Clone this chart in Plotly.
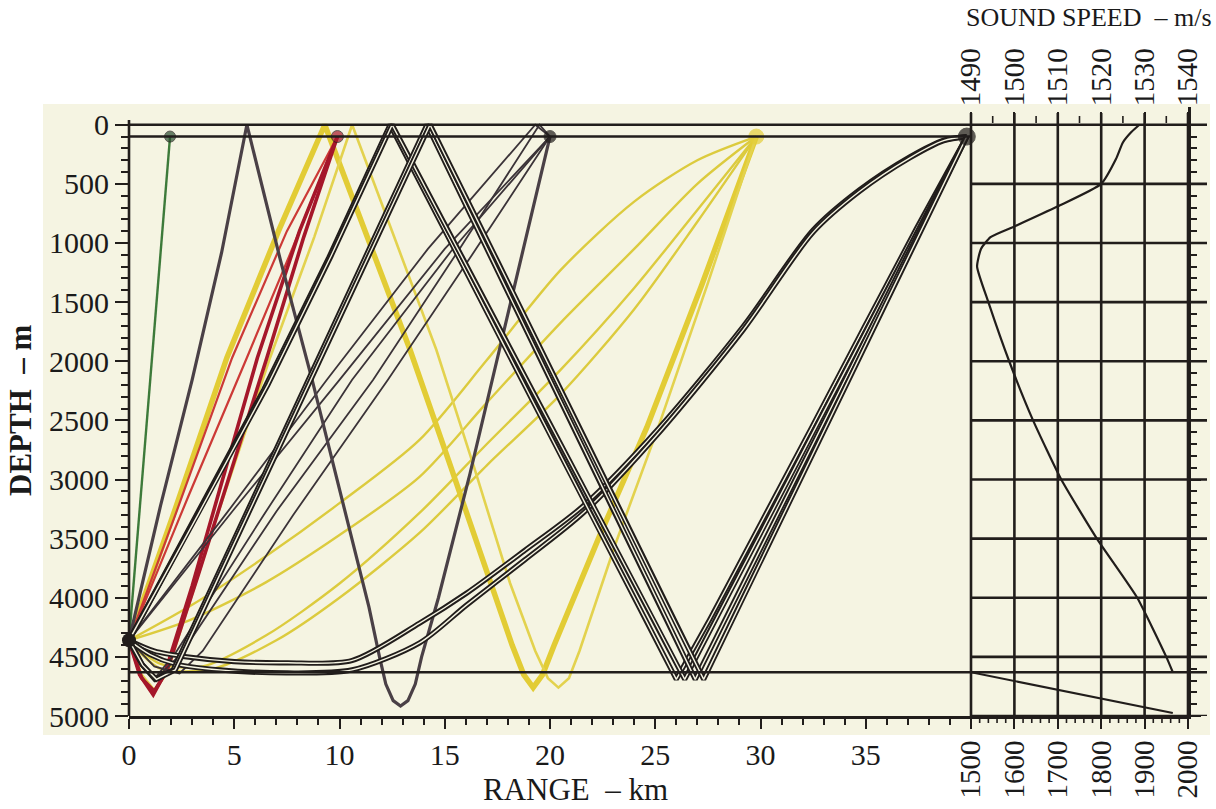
import plotly.graph_objects as go

# ---------------------------------------------------------------------------
# Ray paths (range in km, depth in m), grouped by receiver they reach
# ---------------------------------------------------------------------------
source_range = [0.0]
source_depth = [4360]

receiver_range = [1.95, 9.9, 20.0, 29.8, 39.8]
receiver_depth = [100, 100, 100, 100, 100]
receiver_color = ["#2c4f31", "#a8182a", "#1f1b19", "#e4cf3a", "#1f1b19"]
receiver_edge = ["#1f1b19", "#1f1b19", "#1f1b19", "#e4cf3a", "#1f1b19"]
receiver_size = [11, 12, 12, 15, 17]

# receiver at ~2 km
green_range = [0, 0.45, 0.95, 1.45, 1.95]
green_depth = [4360, 3380, 2280, 1180, 100]

# receiver at ~10 km (two direct, two bottom-penetrating)
red_ranges = [
    [0, 2.2, 4.9, 7.5, 9.9],
    [0, 2.8, 5.6, 7.8, 9.9],
    [0, 0.5, 1.15, 1.7, 3.0, 6.1, 8.1, 9.9],
    [0, 0.6, 1.2, 1.8, 3.3, 6.55, 8.3, 9.9],
]
red_depths = [
    [4360, 3300, 1970, 900, 100],
    [4360, 3150, 1970, 1030, 100],
    [4360, 4650, 4820, 4640, 3900, 1970, 900, 100],
    [4360, 4680, 4790, 4620, 3800, 1970, 950, 100],
]

# receiver at 20 km: surface reflection, bottom loop, then up
gray_range = [0, 1.5, 3.0, 4.4, 5.6, 7.2, 8.7, 10.3, 11.4, 11.9, 12.2, 12.55,
              12.9, 13.25, 13.6, 13.9, 14.7, 16.2, 17.6, 19.0, 20.0]
gray_depth = [4360, 3220, 2157, 1080, 0, 1150, 2157, 3300, 4080, 4500, 4730, 4870,
              4915, 4870, 4730, 4500, 4000, 2950, 1903, 850, 100]

# receiver at 20 km: thin direct / bottom-bounce rays
thin_ranges = [
    [0, 4.7, 9.4, 14.2, 19.3, 20.0],
    [0, 5.0, 10.0, 15.0, 20.0],
    [0, 0.6, 1.23, 2.2, 6.4, 10.6, 15.3, 20.0],
    [0, 0.6, 1.3, 2.5, 7.0, 11.6, 15.7, 19.5, 20.0],
    [0, 1.2, 2.4, 3.5, 7.8, 12.3, 16.3, 20.0],
]
thin_depths = [
    [4360, 3270, 2157, 1050, 0, 100],
    [4360, 3250, 2157, 1050, 100],
    [4360, 4560, 4680, 4470, 3300, 2157, 1070, 100],
    [4360, 4560, 4680, 4470, 3270, 2157, 1050, 0, 100],
    [4360, 4580, 4640, 4450, 3300, 2157, 1100, 100],
]

# receiver at ~30 km: surface-bottom-surface paths
yellow_v_ranges = [
    [0, 2.1, 4.65, 7.1, 9.3, 11.3, 13.35, 15.3, 17.15, 18.2, 18.75, 19.2, 19.65,
     20.2, 22.3, 24.6, 27.2, 29.8],
    [0, 0.6, 1.2, 1.8, 4.2, 6.7, 8.8, 10.6, 12.6, 14.6, 16.4, 18.1, 19.3, 19.9,
     20.4, 20.9, 21.4, 23.1, 25.1, 27.5, 29.8],
]
yellow_v_depths = [
    [4360, 3300, 1970, 900, 0, 950, 1903, 2900, 3875, 4400, 4650, 4760, 4650,
     4400, 3500, 2560, 1360, 100],
    [4360, 4650, 4780, 4640, 3300, 1970, 950, 0, 950, 1903, 2900, 3875, 4450, 4680,
     4760, 4680, 4450, 3550, 2580, 1340, 100],
]

# receiver at ~30 km: refracted paths
yellow_c_ranges = [
    [0, 3, 6.5, 10, 13.8, 17, 20.5, 24, 27, 29.8],
    [0, 3, 6.5, 10, 13.8, 17, 20.5, 24, 27, 29.8],
    [0, 1.5, 3.5, 6.5, 10, 13.8, 17, 20.5, 24, 27, 29.8],
    [0, 1.5, 4, 7, 10, 13.8, 17, 20.5, 24, 27, 29.8],
]
yellow_c_depths = [
    [4360, 4060, 3650, 3200, 2665, 1990, 1230, 650, 300, 100],
    [4360, 4180, 3870, 3470, 2978, 2350, 1675, 1050, 500, 100],
    [4360, 4560, 4580, 4320, 3880, 3283, 2700, 2073, 1380, 720, 100],
    [4360, 4600, 4600, 4360, 4000, 3452, 2880, 2280, 1560, 820, 100],
]

# receiver at ~40 km: surface-bottom-surface paths
black_v_ranges = [
    [0, 3.2, 6.4, 9.5, 12.4, 15.6, 18.8, 21.9, 24.5, 26.0, 27.6, 30.0, 32.4, 34.9,
     37.4, 39.8],
    [0, 3.3, 6.6, 9.6, 12.5, 15.8, 19.1, 22.2, 24.9, 26.4, 28.0, 30.4, 32.8, 35.2,
     37.6, 39.8],
    [0, 0.6, 1.23, 2.1, 5.3, 8.5, 11.4, 14.15, 17.3, 20.2, 23.2, 25.5, 26.9, 28.5,
     30.9, 33.3, 35.6, 37.8, 39.8],
    [0, 0.65, 1.3, 2.2, 5.4, 8.6, 11.5, 14.3, 17.5, 20.5, 23.5, 25.9, 27.3, 28.9,
     31.2, 33.6, 35.9, 38.0, 39.8],
]
black_v_depths = [
    [4360, 3300, 2240, 1120, 0, 1100, 2210, 3280, 4170, 4690, 4180, 3380, 2570,
     1720, 880, 100],
    [4360, 3290, 2200, 1110, 0, 1110, 2230, 3270, 4180, 4690, 4140, 3320, 2500,
     1680, 850, 100],
    [4360, 4560, 4690, 4610, 3390, 2160, 1060, 0, 1160, 2220, 3330, 4170, 4690,
     4120, 3270, 2410, 1590, 810, 100],
    [4360, 4570, 4690, 4610, 3390, 2170, 1070, 0, 1150, 2240, 3320, 4190, 4690,
     4100, 3260, 2380, 1530, 760, 100],
]

# receiver at ~40 km: refracted arcs grazing the bottom
arc_ranges = [
    [0, 1.2, 2.75, 5.0, 7.5, 10.6, 13.8, 16.05, 18.8, 21.6, 25.2, 29.2, 32.5, 34.7,
     37.1, 38.7, 39.8],
    [0, 1.0, 2.2, 4.3, 7.5, 10.6, 13.8, 16.05, 18.8, 21.6, 25.2, 29.2, 32.5, 34.7,
     37.1, 38.7, 39.8],
]
arc_depths = [
    [4360, 4450, 4500, 4540, 4550, 4530, 4215, 3960, 3600, 3220, 2560, 1700, 890,
     550, 270, 130, 100],
    [4360, 4480, 4560, 4610, 4636, 4610, 4382, 4060, 3680, 3280, 2600, 1730, 910,
     565, 280, 135, 100],
]

# ---------------------------------------------------------------------------
# Sound-speed profile
# ---------------------------------------------------------------------------
water_depth = [0, 60, 150, 290, 500, 690, 860, 950, 1050, 1200, 1500, 2000,
               2500, 3000, 3500, 4000, 4500, 4630]
water_speed = [1528.8, 1527, 1525, 1523.4, 1520, 1510, 1500, 1494.5,
               1492.3, 1491.4, 1494, 1498.8, 1504.3, 1510.8, 1519, 1528.3, 1535,
               1536.5]
sediment_depth = [4630, 4975]
sediment_speed = [1500, 1965]

depth_ticks = list(range(0, 5001, 500))
depth_minor = list(range(0, 5001, 100))
range_ticks = list(range(0, 36, 5))
speed_ticks_top = list(range(1490, 1541, 10))
speed_minor_top = list(range(1495, 1541, 10))
speed_ticks_bottom = list(range(1500, 2001, 100))
speed_minor_bottom = [c for c in range(1520, 2000, 20) if c % 100]
bottom_depth = 4630
receiver_line_depth = 100
panel_grid_depths = depth_ticks + [bottom_depth]

# ---------------------------------------------------------------------------
W, H = 1216, 809
X_DOM = [129 / W, 971 / W]
X2_DOM = [971 / W, 1188 / W]
Y_DOM = [(H - 716) / H, (H - 107) / H]
TOP_AXIS_PX = 123
BOTTOM_AXIS_PX = 716
INK = "#211d1b"
PAPER = "#f5f4e2"
FONT = "Liberation Serif, Times New Roman, serif"

fig = go.Figure()


def add_ray(xs, ys, color, width, shape="linear"):
    fig.add_trace(go.Scatter(x=xs, y=ys, mode="lines", xaxis="x", yaxis="y",
                             line=dict(color=color, width=width, shape=shape,
                                       smoothing=0.8),
                             hoverinfo="skip", showlegend=False))


def add_double_ray(xs, ys, shape="linear"):
    add_ray(xs, ys, INK, 5.2, shape)
    add_ray(xs, ys, PAPER, 1.4, shape)


for xs, ys in zip(yellow_c_ranges, yellow_c_depths):
    add_ray(xs, ys, "#dccb3e", 2.4, "spline")
add_ray(yellow_v_ranges[0], yellow_v_depths[0], "#e2cc35", 5.5)
add_ray(yellow_v_ranges[1], yellow_v_depths[1], "#e3d24e", 2.6)

for i, (xs, ys) in enumerate(zip(red_ranges, red_depths)):
    if i < 2:
        add_ray(xs, ys, "#cc3a36", 2.2)
    else:
        add_ray(xs, ys, "#a5172a", 3.6)

add_ray(green_range, green_depth, "#3d7a3a", 2.4)

for xs, ys in zip(thin_ranges, thin_depths):
    add_ray(xs, ys, "#3b3338", 1.8)
add_ray(gray_range, gray_depth, "#4a4046", 3.2)

for xs, ys in zip(arc_ranges, arc_depths):
    add_double_ray(xs, ys, "spline")
for xs, ys in zip(black_v_ranges, black_v_depths):
    add_double_ray(xs, ys)

# receivers and source
fig.add_trace(go.Scatter(x=receiver_range, y=receiver_depth, mode="markers",
                         xaxis="x", yaxis="y", cliponaxis=False,
                         marker=dict(color=receiver_color, size=receiver_size,
                                     line=dict(color=receiver_edge, width=1)),
                         hoverinfo="skip", showlegend=False))
fig.add_trace(go.Scatter(x=source_range, y=source_depth, mode="markers",
                         xaxis="x", yaxis="y", cliponaxis=False,
                         marker=dict(color=INK, size=14),
                         hoverinfo="skip", showlegend=False))

# sound speed profile
fig.add_trace(go.Scatter(x=water_speed, y=water_depth, mode="lines",
                         xaxis="x2", yaxis="y2",
                         line=dict(color=INK, width=2.2, shape="spline",
                                   smoothing=0.5),
                         hoverinfo="skip", showlegend=False))
fig.add_trace(go.Scatter(x=sediment_speed, y=sediment_depth, mode="lines",
                         xaxis="x3", yaxis="y2",
                         line=dict(color=INK, width=2.2),
                         hoverinfo="skip", showlegend=False))


def km_to_paper(km):
    return X_DOM[0] + km / 40.0 * (X_DOM[1] - X_DOM[0])


def speed_to_paper(c):
    return X2_DOM[0] + (c - 1490) / 50.0 * (X2_DOM[1] - X2_DOM[0])


def sediment_speed_to_paper(c):
    return X2_DOM[0] + (c - 1500) / 500.0 * (X2_DOM[1] - X2_DOM[0])


shapes = [
    # paper tone behind the whole figure area
    dict(type="rect", xref="paper", yref="paper", x0=43 / W, x1=1210 / W,
         y0=(H - 735) / H, y1=(H - 104) / H, fillcolor=PAPER, line_width=0,
         layer="below"),
]
line_style = dict(color=INK, width=2.6)
tick_style = dict(color=INK, width=1.6)
# main panel frame lines
for d in [0, receiver_line_depth, bottom_depth]:
    shapes.append(dict(type="line", xref="paper", yref="y", x0=km_to_paper(0),
                       x1=km_to_paper(40), y0=d, y1=d, line=line_style))
shapes.append(dict(type="line", xref="paper", yref="y", x0=km_to_paper(0),
                   x1=km_to_paper(0), y0=-40, y1=5000, line=line_style))
# sound speed panel grid
for d in panel_grid_depths:
    shapes.append(dict(type="line", xref="paper", yref="y", x0=X2_DOM[0],
                       x1=1207 / W, y0=d, y1=d, line=line_style))
for c in speed_ticks_top:
    shapes.append(dict(type="line", xref="paper", yref="y", x0=speed_to_paper(c),
                       x1=speed_to_paper(c), y0=-100, y1=5000, line=line_style))
# small ticks on both speed scales
for c in speed_minor_top:
    xp = speed_to_paper(c)
    shapes.append(dict(type="line", xref="paper", yref="paper", x0=xp, x1=xp,
                       y0=(H - TOP_AXIS_PX) / H, y1=(H - TOP_AXIS_PX + 7) / H,
                       line=tick_style))
for c in speed_minor_bottom:
    xp = sediment_speed_to_paper(c)
    shapes.append(dict(type="line", xref="paper", yref="paper", x0=xp, x1=xp,
                       y0=(H - BOTTOM_AXIS_PX) / H,
                       y1=(H - BOTTOM_AXIS_PX - 7) / H, line=tick_style))

tick_font = dict(family=FONT, size=30, color="#1a1a1a")
y_range = [5000, -150]

fig.update_layout(
    width=W, height=H,
    margin=dict(l=0, r=0, t=0, b=0, autoexpand=False),
    paper_bgcolor="white",
    plot_bgcolor="rgba(0,0,0,0)",
    shapes=shapes,
    xaxis=dict(domain=X_DOM, range=[0, 40], anchor="y", showgrid=False,
               automargin=False,
               zeroline=False, showline=True, linecolor=INK, linewidth=2.6,
               tickmode="array", tickvals=range_ticks, ticks="outside",
               ticklen=10, tickwidth=2.4, tickcolor=INK, tickfont=tick_font,
               minor=dict(tickmode="linear", tick0=0, dtick=1, ticks="outside",
                          ticklen=6, tickwidth=1.6, tickcolor=INK)),
    yaxis=dict(domain=Y_DOM, range=y_range, anchor="x", showgrid=False,
               automargin=False,
               zeroline=False, showline=False, tickmode="array",
               tickvals=depth_ticks, ticks="outside", ticklen=13, tickwidth=2.4,
               tickcolor=INK, tickfont=tick_font,
               minor=dict(tickmode="array", tickvals=depth_minor,
                          ticks="outside", ticklen=7, tickwidth=1.6,
                          tickcolor=INK)),
    xaxis2=dict(domain=X2_DOM, range=[1490, 1540], anchor="free",
                automargin=False,
                position=(H - TOP_AXIS_PX) / H, side="top", showgrid=False,
                zeroline=False, showline=False, tickmode="array",
                tickvals=speed_ticks_top, tickangle=-90, ticks="outside",
                ticklen=11, tickwidth=2.4, tickcolor=INK,
                tickfont=dict(family=FONT, size=29, color="#1a1a1a")),
    xaxis3=dict(range=[1500, 2000], overlaying="x2", anchor="y2", side="bottom",
                automargin=False,
                showgrid=False, zeroline=False, showline=True, linecolor=INK,
                linewidth=2.6, tickmode="array", tickvals=speed_ticks_bottom,
                tickangle=-90, ticks="outside", ticklen=10, tickwidth=2.4,
                tickcolor=INK,
                tickfont=dict(family=FONT, size=29, color="#1a1a1a")),
    yaxis2=dict(range=y_range, overlaying="y", anchor="x2", side="right",
                automargin=False,
                showgrid=False, zeroline=False, showline=True, linecolor=INK,
                linewidth=2.6, showticklabels=False, tickmode="array",
                tickvals=depth_ticks, ticks="outside", ticklen=10, tickwidth=2.2,
                tickcolor=INK,
                minor=dict(tickmode="array", tickvals=depth_minor,
                           ticks="outside", ticklen=6, tickwidth=1.5,
                           tickcolor=INK)),
    annotations=[
        dict(text="RANGE  – km", xref="paper", yref="paper", x=575 / W,
             y=(H - 789) / H, showarrow=False, xanchor="center", yanchor="middle",
             font=dict(family=FONT, size=31, color="#1a1a1a")),
        dict(text="<b>DEPTH  – m</b>", xref="paper", yref="paper", x=21 / W,
             y=(H - 410) / H, showarrow=False, textangle=-90, xanchor="center",
             yanchor="middle", font=dict(family=FONT, size=31, color="#1a1a1a")),
        dict(text="SOUND SPEED  – m/s", xref="paper", yref="paper", x=1089 / W,
             y=(H - 18) / H, showarrow=False, xanchor="center", yanchor="middle",
             font=dict(family=FONT, size=26, color="#1a1a1a")),
    ],
)

fig.write_html("out.html")
